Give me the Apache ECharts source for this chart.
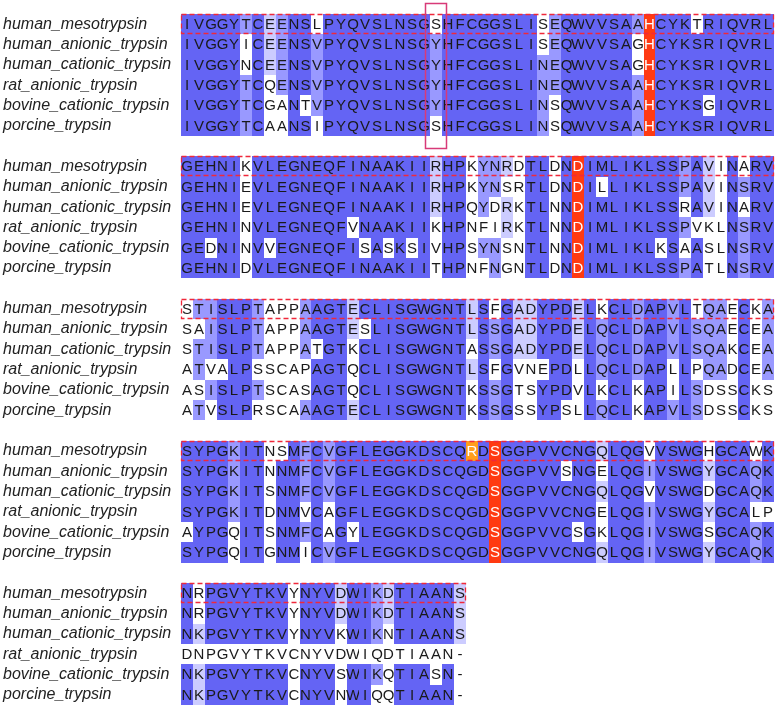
<!DOCTYPE html>
<html><head><meta charset="utf-8">
<script src="https://cdn.jsdelivr.net/npm/echarts@6/dist/echarts.min.js"></script>
<style>html,body{margin:0;padding:0;background:#fff}#c{width:778px;height:711px}</style>
</head><body><div id="c"></div>
<script>
const sequenceNames = ['human_mesotrypsin','human_anionic_trypsin','human_cationic_trypsin','rat_anionic_trypsin','bovine_cationic_trypsin','porcine_trypsin'];

const block1 = [
  'IVGGYTCEENSLPYQVSLNSGSHFCGGSLISEQWVVSAAHCYKTRIQVRL',
  'IVGGYICEENSVPYQVSLNSGYHFCGGSLISEQWVVSAGHCYKSRIQVRL',
  'IVGGYNCEENSVPYQVSLNSGYHFCGGSLINEQWVVSAGHCYKSRIQVRL',
  'IVGGYTCQENSVPYQVSLNSGYHFCGGSLINEQWVVSAAHCYKSRIQVRL',
  'IVGGYTCGANTVPYQVSLNSGYHFCGGSLINSQWVVSAAHCYKSGIQVRL',
  'IVGGYTCAANSIPYQVSLNSGSHFCGGSLINSQWVVSAAHCYKSRIQVRL'
];
const block2 = [
  'GEHNIKVLEGNEQFINAAKIIRHPKYNRDTLDNDIMLIKLSSPAVINARV',
  'GEHNIEVLEGNEQFINAAKIIRHPKYNSRTLDNDILLIKLSSPAVINSRV',
  'GEHNIEVLEGNEQFINAAKIIRHPQYDRKTLNNDIMLIKLSSRAVINARV',
  'GEHNINVLEGNEQFVNAAKIIKHPNFIRKTLNNDIMLIKLSSPVKLNSRV',
  'GEDNINVVEGNEQFISASKSIVHPSYNSNTLNNDIMLIKLKSAASLNSRV',
  'GEHNIDVLEGNEQFINAAKIITHPNFNGNTLDNDIMLIKLSSPATLNSRV'
];
const block3 = [
  'STISLPTAPPAAGTECLISGWGNTLSFGADYPDELKCLDAPVLTQAECKA',
  'SAISLPTAPPAAGTESLISGWGNTLSSGADYPDELQCLDAPVLSQAECEA',
  'STISLPTAPPATGTKCLISGWGNTASSGADYPDELQCLDAPVLSQAKCEA',
  'ATVALPSSCAPAGTQCLISGWGNTLSFGVNEPDLLQCLDAPLLPQADCEA',
  'ASISLPTSCASAGTQCLISGWGNTKSSGTSYPDVLKCLKAPILSDSSCKS',
  'ATVSLPRSCAAAGTECLISGWGNTKSSGSSYPSLLQCLKAPVLSDSSCKS'
];
const block4 = [
  'SYPGKITNSMFCVGFLEGGKDSCQRDSGGPVVCNGQLQGVVSWGHGCAWK',
  'SYPGKITNNMFCVGFLEGGKDSCQGDSGGPVVSNGELQGIVSWGYGCAQK',
  'SYPGKITSNMFCVGFLEGGKDSCQGDSGGPVVCNGQLQGVVSWGDGCAQK',
  'SYPGKITDNMVCAGFLEGGKDSCQGDSGGPVVCNGELQGIVSWGYGCALP',
  'AYPGQITSNMFCAGYLEGGKDSCQGDSGGPVVCSGKLQGIVSWGSGCAQK',
  'SYPGQITGNMICVGFLEGGKDSCQGDSGGPVVCNGQLQGIVSWGYGCAQK'
];
const block5 = [
  'NRPGVYTKVYNYVDWIKDTIAANS',
  'NRPGVYTKVYNYVDWIKDTIAANS',
  'NKPGVYTKVYNYVKWIKNTIAANS',
  'DNPGVYTKVCNYVDWIQDTIAAN-',
  'NKPGVYTKVCNYVSWIKQTIASN-',
  'NKPGVYTKVCNYVNWIQQTIAAN-'
];
const blocks = [block1, block2, block3, block4, block5];

// annotations: [block, column] (0-based), [block, row, column], [block, row]
const redColumns = [[0, 39], [1, 33], [3, 26]];
const orangeCells = [[3, 0, 24]];
const uncolouredRows = [[4, 3]];
const boxedColumn = [0, 21];

const LEVEL_COLORS = ['#ffffff', '#ccccff', '#9999ff', '#6464f4'];
const ROWS_PER_BLOCK = 7;

function levelsFor(block) {
  const n = block.length, len = block[0].length;
  const out = block.map(() => []);
  for (let c = 0; c < len; c++) {
    const counts = {};
    block.forEach(s => { const ch = s[c]; if (ch && ch !== '-') counts[ch] = (counts[ch] || 0) + 1; });
    let max = 0, modal = null, tie = false;
    for (const k in counts) {
      if (counts[k] > max) { max = counts[k]; modal = k; tie = false; }
      else if (counts[k] === max) tie = true;
    }
    const pct = max / n * 100;
    let lvl = 0;
    if (!tie) lvl = pct > 80 ? 3 : pct > 60 ? 2 : pct > 40 ? 1 : 0;
    block.forEach((s, r) => { out[r][c] = (s[c] === modal ? lvl : 0); });
  }
  return out;
}

const yCats = [];
blocks.forEach((b, bi) => {
  sequenceNames.forEach(n => yCats.push(n));
  if (bi < blocks.length - 1) yCats.push('');
});

const cellData = [];
blocks.forEach((block, bi) => {
  const lv = levelsFor(block);
  block.forEach((seq, r) => {
    const hideRow = uncolouredRows.some(u => u[0] === bi && u[1] === r);
    for (let c = 0; c < seq.length; c++) {
      let special = 0;
      if (redColumns.some(rc => rc[0] === bi && rc[1] === c)) special = 1;
      if (orangeCells.some(o => o[0] === bi && o[1] === r && o[2] === c)) special = 2;
      const level = hideRow ? 0 : lv[r][c];
      cellData.push([c, bi * ROWS_PER_BLOCK + r, level, special, seq[c]]);
    }
  });
});

const frameData = blocks.map((b, bi) => [0, bi * ROWS_PER_BLOCK, b[0].length]);
const boxData = [[boxedColumn[1], boxedColumn[0] * ROWS_PER_BLOCK, sequenceNames.length]];

const chart = echarts.init(document.getElementById('c'), null, {renderer: 'canvas'});
chart.setOption({
  animation: false,
  backgroundColor: '#ffffff',
  grid: {left: 181, width: 593, top: 14, height: 691},
  xAxis: {type: 'value', min: 0, max: 50, show: false},
  yAxis: {
    type: 'category', data: yCats, inverse: true,
    axisLine: {show: false}, axisTick: {show: false}, splitLine: {show: false},
    axisLabel: {
      interval: 0, hideOverlap: false,
      align: 'left', margin: 178, fontStyle: 'italic', fontSize: 16,
      fontFamily: '"Liberation Sans", Arial, sans-serif', color: '#222'
    }
  },
  series: [
    {
      type: 'custom', name: 'cells', data: cellData, clip: false,
      renderItem: function (params, api) {
        const c = api.value(0), row = api.value(1), level = api.value(2), special = api.value(3);
        const ch = cellData[params.dataIndex][4];
        const p0 = api.coord([c, row]);
        const p1 = api.coord([c + 1, row]);
        const h = api.size([0, 1])[1];
        const x0 = Math.round(p0[0]), x1 = Math.round(p1[0]);
        const y0 = Math.round(p0[1] - h / 2), y1 = Math.round(p0[1] + h / 2);
        let fill = LEVEL_COLORS[level];
        let tc = '#1a1a1a';
        if (special === 1) { fill = '#ff3a12'; tc = '#ffffff'; }
        if (special === 2) { fill = '#ff9e1c'; tc = '#ffffff'; }
        return {
          type: 'group',
          children: [
            {type: 'rect', shape: {x: x0, y: y0, width: x1 - x0, height: y1 - y0}, style: {fill: fill}},
            {type: 'text', style: {text: ch, x: (x0 + x1) / 2, y: (y0 + y1) / 2 + 0.5, align: 'center', verticalAlign: 'middle',
              fill: tc, font: '15px "Liberation Sans", Arial, sans-serif'}}
          ]
        };
      }
    },
    {
      type: 'custom', name: 'frames', data: frameData, clip: false, z: 5,
      renderItem: function (params, api) {
        const row = api.value(1), len = api.value(2);
        const p0 = api.coord([0, row]);
        const p1 = api.coord([len, row]);
        const h = api.size([0, 1])[1];
        return {
          type: 'rect',
          shape: {x: Math.round(p0[0]) + 0.5, y: Math.round(p0[1] - h / 2) + 0.5, width: Math.round(p1[0]) - Math.round(p0[0]) - 1, height: Math.round(h) - 1},
          style: {fill: null, stroke: '#f0283a', lineWidth: 1.3, lineDash: [5, 3]}
        };
      }
    },
    {
      type: 'custom', name: 'box', data: boxData, clip: false, z: 6,
      renderItem: function (params, api) {
        const c = api.value(0), row = api.value(1), n = api.value(2);
        const pTop = api.coord([c - 0.4, row]);
        const pBot = api.coord([c + 1.4, row + n - 1]);
        const h = api.size([0, 1])[1];
        const y0 = pTop[1] - h / 2 - 0.55 * h;
        const y1 = pBot[1] + h / 2 + 0.6 * h;
        return {
          type: 'rect',
          shape: {x: Math.round(pTop[0]) + 0.5, y: Math.round(y0) + 0.5, width: Math.round(pBot[0] - pTop[0]), height: Math.round(y1 - y0)},
          style: {fill: null, stroke: '#d83a78', lineWidth: 1.5}
        };
      }
    }
  ]
});
</script></body></html>
